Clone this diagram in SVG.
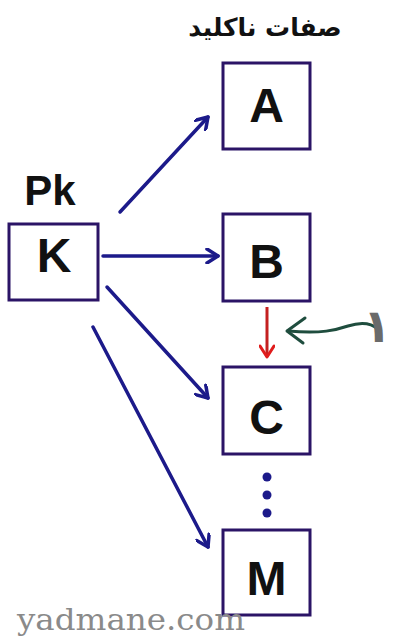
<svg xmlns="http://www.w3.org/2000/svg" width="393" height="642" viewBox="0 0 393 642">
<style>
.box{fill:#ffffff;stroke:#2b1466;stroke-width:3}
.lbl{font-family:"Liberation Sans",Arial,sans-serif;font-weight:bold;font-size:48px;fill:#111;text-anchor:middle}
.blue{stroke:#1c1a8a;stroke-width:3.5;fill:none;stroke-linecap:round}
</style>
<defs>
<marker id="hb" viewBox="0 0 16 16" refX="13" refY="8" markerWidth="16" markerHeight="16" markerUnits="userSpaceOnUse" orient="auto">
<path d="M2,1 L13,8 L2,15" fill="none" stroke="#1c1a8a" stroke-width="3.5" stroke-linecap="round" stroke-linejoin="round"/>
</marker>
<marker id="hr" viewBox="0 0 16 16" refX="13" refY="8" markerWidth="16" markerHeight="16" markerUnits="userSpaceOnUse" orient="auto">
<path d="M2,1 L13,8 L2,15" fill="none" stroke="#e01c1c" stroke-width="3" stroke-linecap="round" stroke-linejoin="round"/>
</marker>
</defs>
<rect width="393" height="642" fill="#ffffff"/>
<text x="265" y="36" font-family="'DejaVu Sans',sans-serif" font-weight="bold" font-size="25" text-anchor="middle" direction="rtl" fill="#111">صفات ناکلید</text>
<text x="50" y="205" font-family="'Liberation Sans',Arial,sans-serif" font-weight="bold" font-size="42" text-anchor="middle" fill="#111">Pk</text>
<g id="connectors">
<line class="blue" x1="120" y1="212" x2="208" y2="117" marker-end="url(#hb)"/>
<line class="blue" x1="103" y1="256" x2="218" y2="256" marker-end="url(#hb)"/>
<line class="blue" x1="107" y1="287" x2="208" y2="398" marker-end="url(#hb)"/>
<line class="blue" x1="93" y1="327" x2="208" y2="547" marker-end="url(#hb)"/>
<line x1="267" y1="307" x2="267" y2="357" stroke="#c42020" stroke-width="3" marker-end="url(#hr)"/>
<path d="M378,329 C370,322 360,322 348,326 C336,330 322,334 288,331" fill="none" stroke="#1f4d3e" stroke-width="3" stroke-linecap="round"/>
<path d="M305,318 L287,331 L303,343" fill="none" stroke="#1f4d3e" stroke-width="3" stroke-linecap="round" stroke-linejoin="round"/>
</g>
<text x="391" y="342" font-family="'DejaVu Sans',sans-serif" font-weight="bold" font-size="46" text-anchor="end" fill="#6a6a6a">۱</text>
<g id="K"><rect class="box" x="9" y="224" width="89" height="76"/><text class="lbl" x="54" y="272">K</text></g>
<g id="A"><rect class="box" x="223" y="63" width="87" height="86"/><text class="lbl" x="266.5" y="122">A</text></g>
<g id="B"><rect class="box" x="223" y="214" width="87" height="87"/><text class="lbl" x="266.5" y="278">B</text></g>
<g id="C"><rect class="box" x="223" y="367" width="87" height="87"/><text class="lbl" x="266.5" y="434">C</text></g>
<g id="M"><rect class="box" x="223" y="530" width="87" height="85"/><text class="lbl" x="266.5" y="595">M</text></g>
<g id="dots" fill="#1c1a8a"><circle cx="267" cy="477" r="4.5"/><circle cx="267" cy="495" r="4.5"/><circle cx="267" cy="513" r="4.5"/></g>
<text x="17" y="630" font-family="'DejaVu Serif',serif" font-size="30" textLength="228" lengthAdjust="spacingAndGlyphs" fill="#8a8a8a">yadmane.com</text>
</svg>
